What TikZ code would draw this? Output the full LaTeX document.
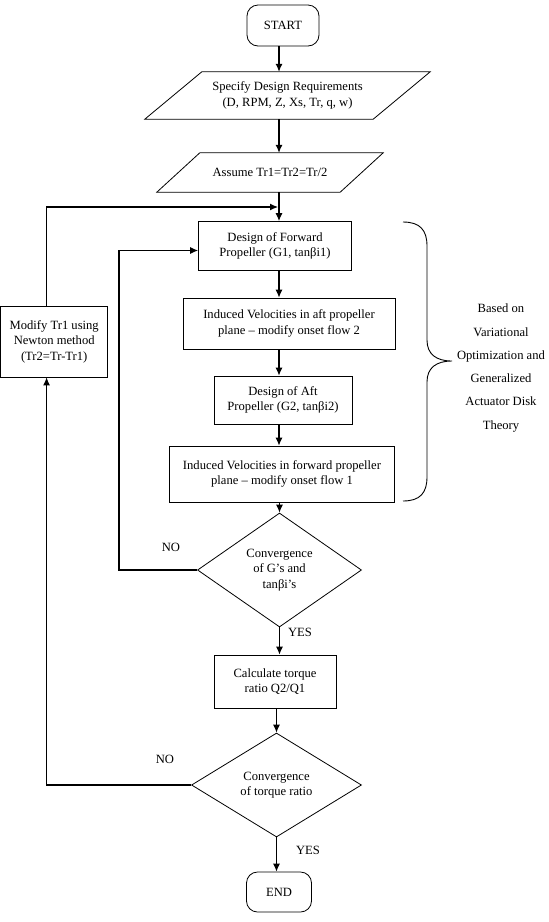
\documentclass[tikz,border=0pt]{standalone}
\usepackage{fontspec}
\setmainfont{Liberation Serif}
\usetikzlibrary{arrows.meta,shapes.geometric,calc}
\begin{document}
\begin{tikzpicture}[x=1pt,y=-1pt,
  txt/.style={font=\fontsize{12.6}{15.6}\selectfont,align=center,inner sep=0pt},
  box/.style={txt,draw,line width=0.8pt},
  term/.style={box,rounded corners=11pt},
  dec/.style={txt,diamond,draw,line width=0.8pt},
  pgram/.style={line width=0.8pt,line join=miter},
  flow/.style={line width=1.1pt,-{Latex[length=8pt,width=7pt]}},
  lbl/.style={txt}]
\useasboundingbox (0,0) rectangle (549,922);
\coordinate (col) at (279,0);
\coordinate (m1) at (46.6,0);

\node[term,minimum width=72,minimum height=41] (start) at (283,25.5) {START};
\node[txt,minimum width=228,minimum height=47] (p1) at (287.5,95.5) {Specify Design Requirements\\(D, RPM, Z, Xs, Tr, q, w)};
\draw[pgram] ([xshift=-28.5pt]p1.south west) -- ([xshift=-28.5pt]p1.south east) -- ([xshift=28.5pt]p1.north east) -- ([xshift=28.5pt]p1.north west) -- cycle;
\node[txt,minimum width=183,minimum height=39] (p2) at (270,172.5) {Assume Tr1=Tr2=Tr/2};
\draw[pgram] ([xshift=-21.5pt]p2.south west) -- ([xshift=-21.5pt]p2.south east) -- ([xshift=21.5pt]p2.north east) -- ([xshift=21.5pt]p2.north west) -- cycle;

\node[box,minimum width=153,minimum height=49] (df) at (275,246) {Design of Forward\\Propeller (G1, tanβi1)};
\node[box,minimum width=212,minimum height=51] (ia) at (289,323.5) {Induced Velocities in aft propeller\\plane – modify onset flow 2};
\node[box,minimum width=138,minimum height=48] (da) at (283,400) {Design of Aft\\Propeller (G2, tanβi2)};
\node[box,minimum width=225,minimum height=56] (if) at (282,474) {Induced Velocities in forward propeller\\plane – modify onset flow 1};
\node[dec,minimum width=164,minimum height=114] (d1) at (279.5,570) {Convergence\\of G’s and\\tanβi’s};
\node[box,minimum width=122,minimum height=53] (calc) at (275,681.5) {Calculate torque\\ratio Q2/Q1};
\node[dec,minimum width=170,minimum height=104] (d2) at (276.5,785) {Convergence\\of torque ratio};
\node[term,minimum width=65,minimum height=40] (end) at (279,892) {END};
\node[box,minimum width=107,minimum height=71] (mod) at (54.2,341.5) {Modify Tr1 using\\Newton method\\(Tr2=Tr-Tr1)};

\draw[flow] (start.south -| col) -- (p1.north -| col);
\draw[flow] (p1.south -| col) -- (p2.north -| col);
\draw[flow] (p2.south -| col) -- (df.north -| col);
\draw[flow] (df.south -| col) -- (ia.north -| col);
\draw[flow] (ia.south -| col) -- (da.north -| col);
\draw[flow] (da.south -| col) -- (if.north -| col);
\draw[flow] (if.south -| d1.north) -- (d1.north);
\draw[flow] (d1.south) -- (d1.south |- calc.north);
\draw[flow] (d2.north |- calc.south) -- (d2.north);
\draw[flow] (d2.south) -- (d2.south |- end.north);

\coordinate (t1) at (278,207);
\draw[flow] (mod.north -| m1) |- (t1);
\coordinate (t2) at (119,250.5);
\draw[flow] (d1.west) -| (t2) -- (t2 -| df.west);
\draw[flow] (d2.west) -| (mod.south -| m1);

\node[lbl] (no1) at (171,547) {NO};
\node[lbl] (yes1) at (300,632) {YES};
\node[lbl] (no2) at (165,759) {NO};
\node[lbl] (yes2) at (308,850) {YES};

\draw[line width=0.9pt] (403,222) .. controls (420,222) and (427,230) .. (427,246) -- (427,340) .. controls (427,354) and (436,361) .. (452,361) .. controls (436,361) and (427,368) .. (427,382) -- (427,477) .. controls (427,493) and (420,501) .. (403,501);
\node[txt,font=\fontsize{12.6}{23.3}\selectfont] (brtxt) at (501,368) {Based on\\Variational\\Optimization and\\Generalized\\Actuator Disk\\Theory};
\end{tikzpicture}
\end{document}
